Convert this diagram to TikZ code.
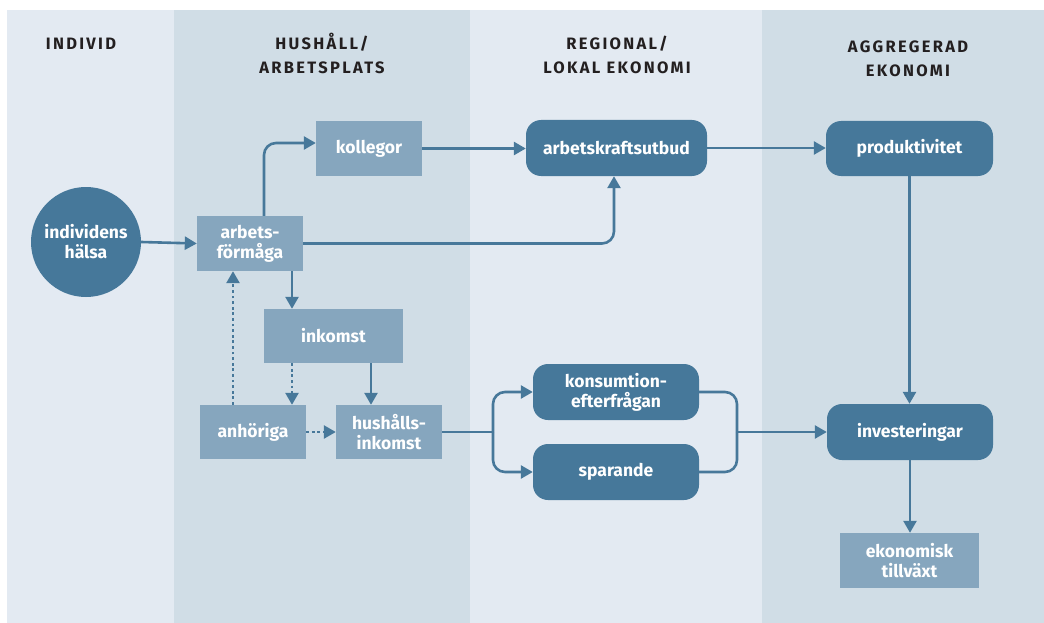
\documentclass[tikz,border=0pt]{standalone}
\usepackage{fontspec}
\setmainfont{Fira Sans}
\newfontfamily\hdrfont[LetterSpace=14]{Fira Sans}
\usetikzlibrary{arrows.meta}
\definecolor{colA}{HTML}{E3EAF2}
\definecolor{colB}{HTML}{D0DDE6}
\definecolor{darkc}{HTML}{46789A}
\definecolor{lightc}{HTML}{86A6BE}
\definecolor{arrowc}{HTML}{47789A}
\definecolor{hdrc}{HTML}{231F20}
\begin{document}
\begin{tikzpicture}[x=1pt,y=-1pt,
  nodefont/.style={font=\bfseries\fontsize{17.5}{20}\selectfont},
  darkbox/.style={nodefont, fill=darkc, rounded corners=15pt, text=white, align=center, inner sep=0pt},
  lightbox/.style={nodefont, fill=lightc, text=white, align=center, inner sep=0pt},
  hdr/.style={font=\hdrfont\bfseries\fontsize{16.5}{24}\selectfont, text=hdrc, align=center, anchor=base, inner sep=0pt},
  arr/.style={draw=arrowc, line width=2.6pt, -{Triangle[length=12pt,width=13pt]}},
  plain/.style={draw=arrowc, line width=2.6pt},
  dotarr/.style={arr, dash pattern=on 2.8pt off 2.8pt}
]
\useasboundingbox (0,0) rectangle (1044,623);
\fill[white] (0,0) rectangle (1044,623);
% columns
\fill[colA] (7,10) rectangle (174,623);
\fill[colB] (174,10) rectangle (470,623);
\fill[colA] (470,10) rectangle (762,623);
\fill[colB] (762,10) rectangle (1044,623);
% headers
\node[hdr] (h1) at (81,50) {INDIVID};
\node[hdr] (h2) at (322,74) {HUSHÅLL/\\ARBETSPLATS};
\node[hdr] (h3) at (617,74) {REGIONAL/\\LOKAL EKONOMI};
\node[hdr] (h4) at (908,77) {AGGREGERAD\\EKONOMI};
% nodes
\node[nodefont, circle, fill=darkc, text=white, align=center, minimum size=110pt, inner sep=0pt] (circ) at (86,242) {individens\\hälsa};
\node[lightbox, minimum width=106pt, minimum height=55pt] (arb) at (250,243.5) {arbets-\\förmåga};
\node[lightbox, minimum width=106pt, minimum height=55pt] (koll) at (369,148.5) {kollegor};
\node[darkbox, minimum width=181pt, minimum height=56pt] (aku) at (616.5,148) {arbetskraftsutbud};
\node[darkbox, minimum width=167pt, minimum height=55pt] (prod) at (909.5,148.5) {produktivitet};
\node[darkbox, minimum width=166pt, minimum height=56pt] (inv) at (910,432) {investeringar};
\node[lightbox, minimum width=139pt, minimum height=55pt] (ek) at (909.5,560.5) {ekonomisk\\tillväxt};
\node[lightbox, minimum width=139pt, minimum height=54pt] (ink) at (333.5,336) {inkomst};
\node[lightbox, minimum width=106pt, minimum height=54pt] (anh) at (253,432) {anhöriga};
\node[lightbox, minimum width=106pt, minimum height=54pt] (hhi) at (389,432) {hushålls-\\inkomst};
\node[darkbox, minimum width=166pt, minimum height=56pt] (kons) at (616,392) {konsumtion-\\efterfrågan};
\node[darkbox, minimum width=166pt, minimum height=56pt] (spar) at (616,472) {sparande};
\coordinate (split) at (493,432);
\coordinate (merge) at (737,432);
% connectors
\draw[arr] (circ.east) -- (arb.west);
\draw[arr, rounded corners=12pt] ([xshift=14pt]arb.north) |- ([yshift=5.5pt]koll.west);
\draw[arr] (koll.east) -- (koll.east -| aku.west);
\draw[arr, rounded corners=12pt] (arb.east) -| ([xshift=-2.5pt]aku.south);
\draw[arr] (aku.east) -- (aku.east -| prod.west);
\draw[arr] (prod.south) -- (prod.south |- inv.north);
\draw[arr] (inv.south) -- (inv.south |- ek.north);
\draw[arr] ([xshift=42pt]arb.south) -- ([xshift=42pt]arb.south |- ink.north);
\draw[dotarr] ([xshift=-41.5pt]ink.south) -- ([xshift=-41.5pt]ink.south |- anh.north);
\draw[dotarr] ([xshift=-20pt]anh.north) -- ([xshift=-20pt]anh.north |- arb.south);
\draw[arr] ([xshift=37.5pt]ink.south) -- ([xshift=37.5pt]ink.south |- hhi.north);
\draw[dotarr] (anh.east) -- (hhi.west);
\draw[plain] (hhi.east) -- (split);
\draw[arr, rounded corners=12pt] (split) |- (kons.west);
\draw[arr, rounded corners=12pt] (split) |- (spar.west);
\draw[plain, rounded corners=12pt] (kons.east) -| (merge);
\draw[plain, rounded corners=12pt] (spar.east) -| (merge);
\draw[arr] (merge) -- (inv.west);
\end{tikzpicture}
\end{document}
